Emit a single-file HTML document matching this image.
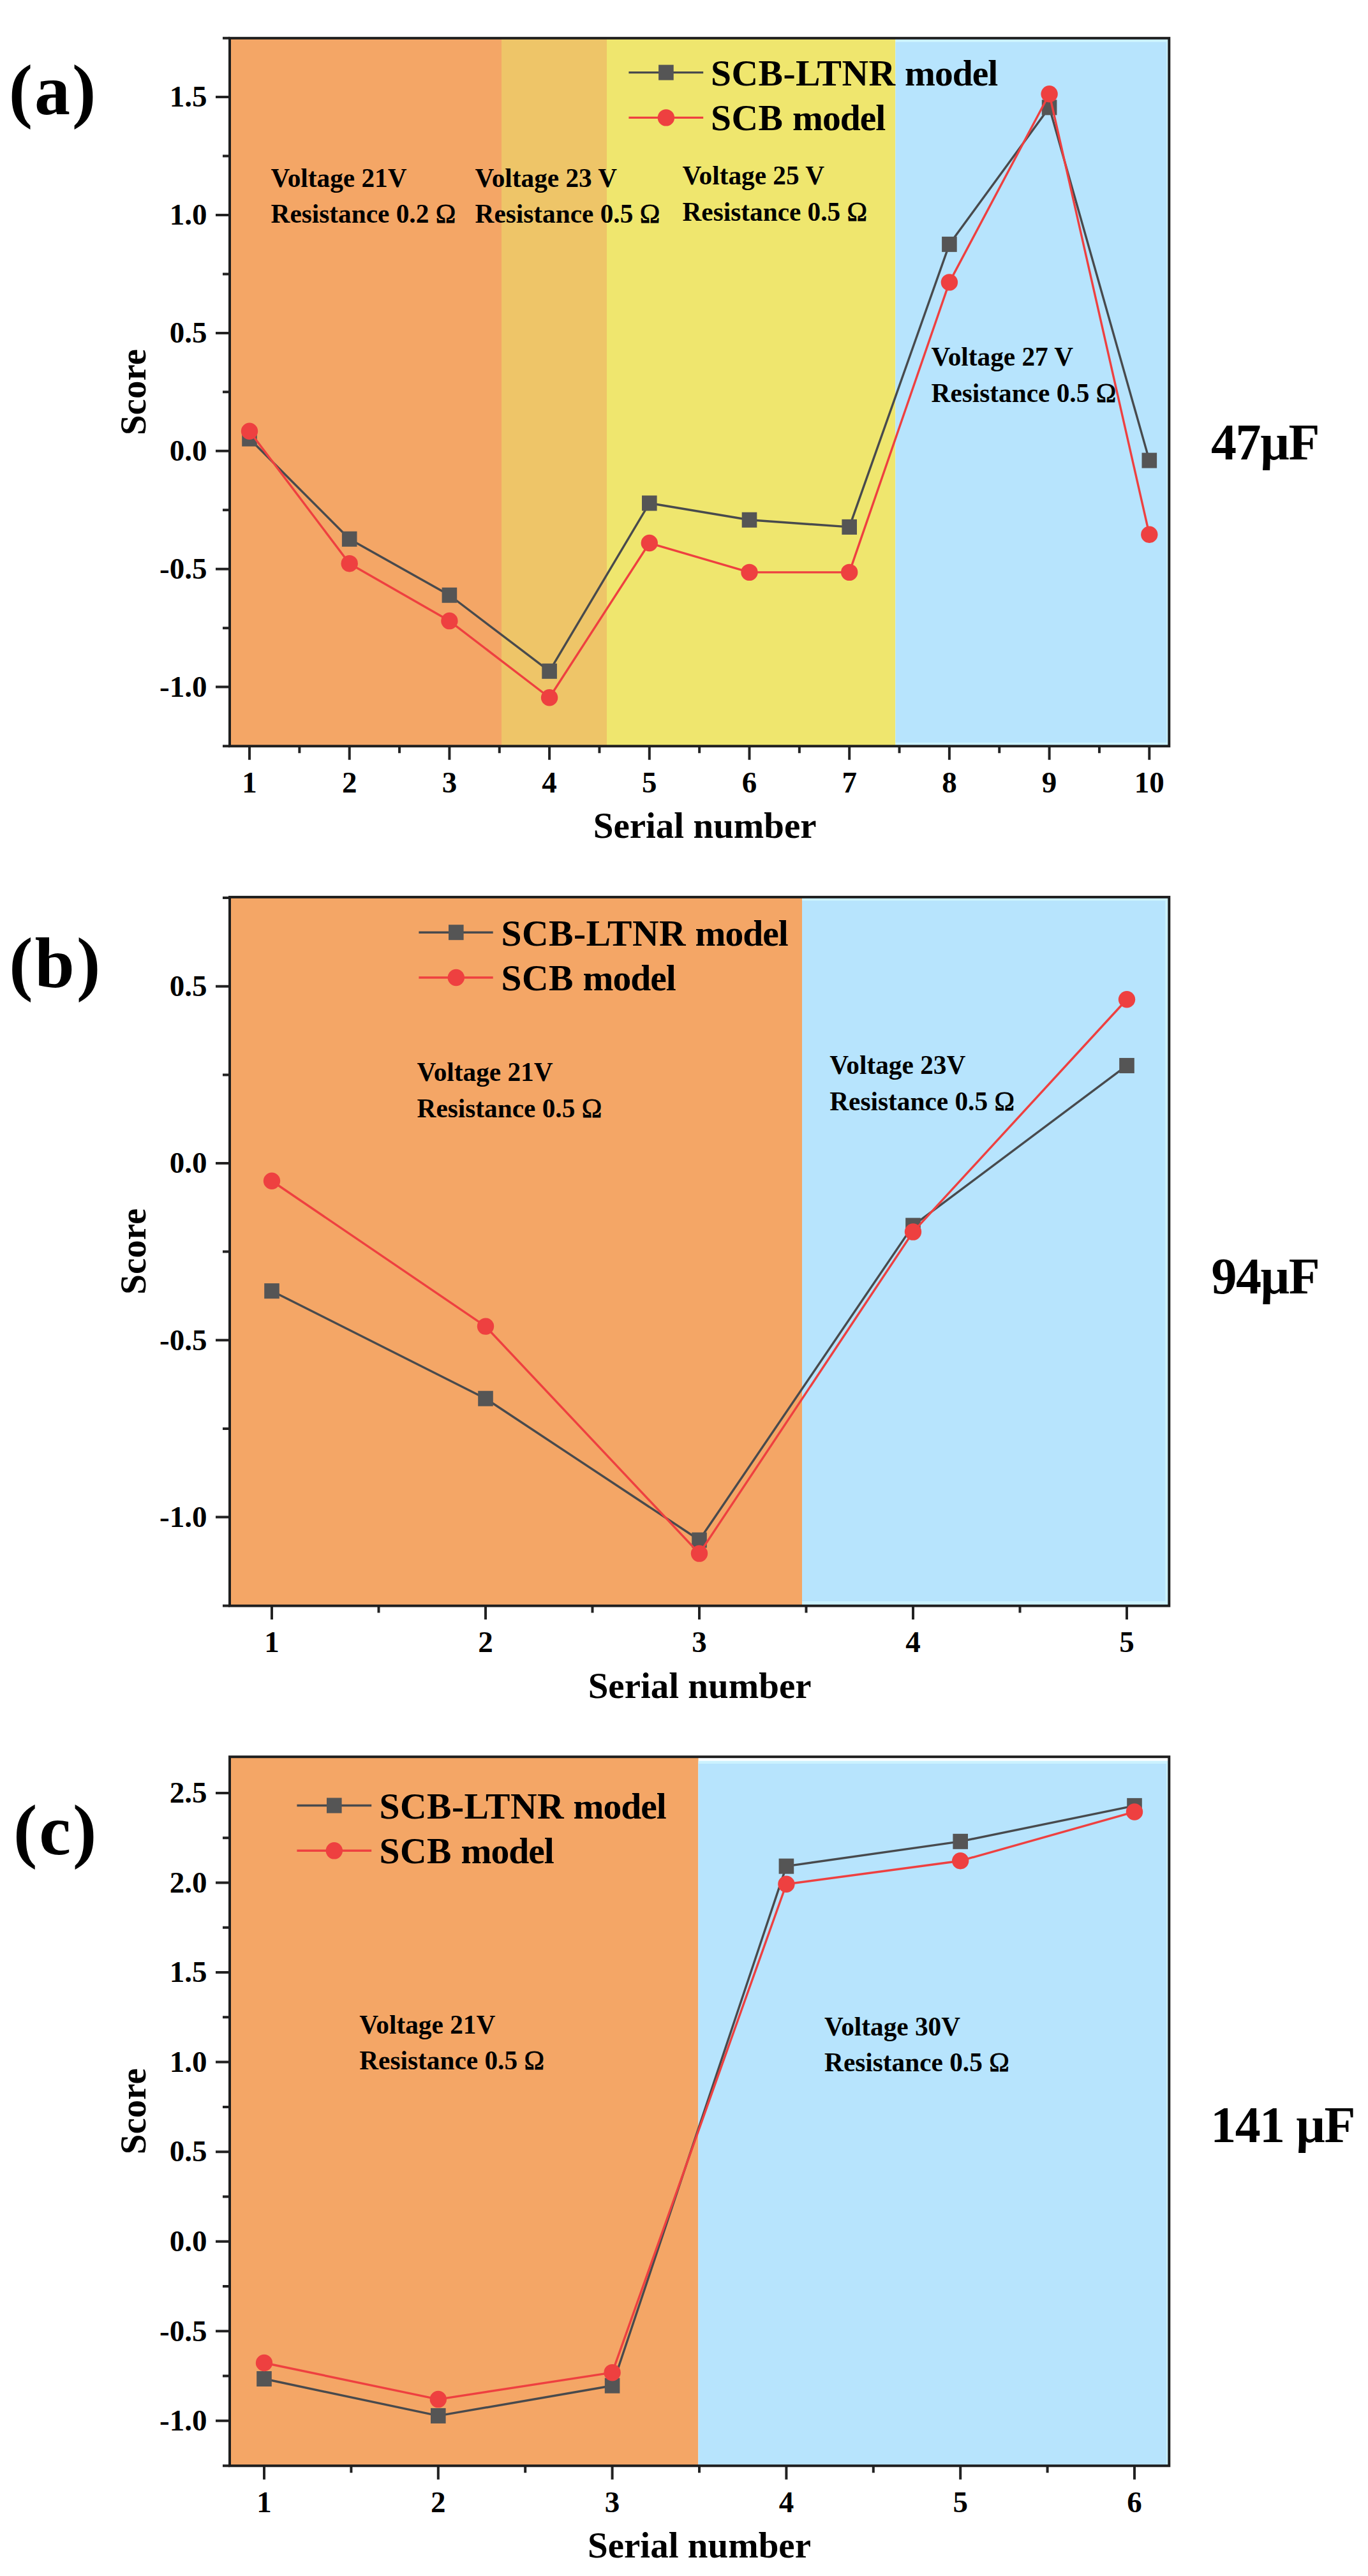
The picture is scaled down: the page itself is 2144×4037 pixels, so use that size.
<!DOCTYPE html>
<html lang="en"><head><meta charset="utf-8"><title>Score vs serial number</title>
<style>html,body{margin:0;padding:0;background:#fff}svg{display:block}text{fill:#000}</style>
</head><body>
<svg width="2144" height="4037" viewBox="0 0 2144 4037">
<rect width="2144" height="4037" fill="#fff"/>
<g id="panel-a">
<rect x="360" y="59.8" width="426" height="1109.5" fill="#F4A666"/>
<rect x="786" y="59.8" width="165" height="1109.5" fill="#EEC568"/>
<rect x="951" y="59.8" width="452.5" height="1109.5" fill="#EFE66E"/>
<rect x="1403.5" y="59.8" width="428.8" height="1109.5" fill="#CBF2FE"/>
<rect x="1403.5" y="66" width="424.7" height="1097.7" fill="#B7E4FD"/>
<path d="M338 1076.6H360M338 891.7H360M338 706.8H360M338 521.9H360M338 337H360M338 152.1H360M349 1169.3H360M349 984.15H360M349 799.25H360M349 614.35H360M349 429.45H360M349 244.55H360M349 59.8H360M391 1169.3V1190.8M547.7 1169.3V1190.8M704.4 1169.3V1190.8M861.1 1169.3V1190.8M1017.8 1169.3V1190.8M1174.5 1169.3V1190.8M1331.2 1169.3V1190.8M1487.9 1169.3V1190.8M1644.6 1169.3V1190.8M1801.3 1169.3V1190.8M469.35 1169.3V1180.3M626.05 1169.3V1180.3M782.75 1169.3V1180.3M939.45 1169.3V1180.3M1096.15 1169.3V1180.3M1252.85 1169.3V1180.3M1409.55 1169.3V1180.3M1566.25 1169.3V1180.3M1722.95 1169.3V1180.3" stroke="#222222" stroke-width="4" fill="none"/>
<polyline points="391,687.57 547.7,844.74 704.4,932.75 861.1,1051.82 1017.8,788.53 1174.5,814.78 1331.2,825.88 1487.9,382.86 1644.6,168.37 1801.3,721.59" fill="none" stroke="#484a4d" stroke-width="3.4" stroke-linejoin="round"/>
<rect x="379.2" y="675.57" width="23.6" height="24" fill="#555555"/>
<rect x="535.9" y="832.74" width="23.6" height="24" fill="#555555"/>
<rect x="692.6" y="920.75" width="23.6" height="24" fill="#555555"/>
<rect x="849.3" y="1039.82" width="23.6" height="24" fill="#555555"/>
<rect x="1006" y="776.53" width="23.6" height="24" fill="#555555"/>
<rect x="1162.7" y="802.78" width="23.6" height="24" fill="#555555"/>
<rect x="1319.4" y="813.88" width="23.6" height="24" fill="#555555"/>
<rect x="1476.1" y="370.86" width="23.6" height="24" fill="#555555"/>
<rect x="1632.8" y="156.37" width="23.6" height="24" fill="#555555"/>
<rect x="1789.5" y="709.59" width="23.6" height="24" fill="#555555"/>
<polyline points="391,675.74 547.7,883.19 704.4,973.06 861.1,1093.24 1017.8,851.02 1174.5,896.88 1331.2,896.88 1487.9,442.39 1644.6,147.29 1801.3,837.71" fill="none" stroke="#EE4040" stroke-width="3.4" stroke-linejoin="round"/>
<circle cx="391" cy="675.74" r="13.2" fill="#EE4040"/>
<circle cx="547.7" cy="883.19" r="13.2" fill="#EE4040"/>
<circle cx="704.4" cy="973.06" r="13.2" fill="#EE4040"/>
<circle cx="861.1" cy="1093.24" r="13.2" fill="#EE4040"/>
<circle cx="1017.8" cy="851.02" r="13.2" fill="#EE4040"/>
<circle cx="1174.5" cy="896.88" r="13.2" fill="#EE4040"/>
<circle cx="1331.2" cy="896.88" r="13.2" fill="#EE4040"/>
<circle cx="1487.9" cy="442.39" r="13.2" fill="#EE4040"/>
<circle cx="1644.6" cy="147.29" r="13.2" fill="#EE4040"/>
<circle cx="1801.3" cy="837.71" r="13.2" fill="#EE4040"/>
<rect x="360" y="59.8" width="1472.3" height="1109.5" fill="none" stroke="#1e1e1e" stroke-width="4"/>
<path d="M985.4 113.6H1102.2" stroke="#484a4d" stroke-width="3.4"/>
<rect x="1032.1" y="101.6" width="23.6" height="24" fill="#555555"/>
<path d="M985.4 184.4H1102.2" stroke="#EE4040" stroke-width="3.4"/>
<circle cx="1043.9" cy="184.4" r="13.2" fill="#EE4040"/>
<text x="1114" y="134" font-size="57.6" font-family="Liberation Serif, serif" font-weight="bold"><tspan letter-spacing="0.45">SCB-LTNR</tspan> <tspan letter-spacing="-1">model</tspan></text>
<text x="1114" y="204.4" font-size="57.6" font-family="Liberation Serif, serif" font-weight="bold"><tspan letter-spacing="0.5">SCB</tspan> <tspan letter-spacing="-1">model</tspan></text>
<text x="424.6" y="293" font-size="41.3" font-family="Liberation Serif, serif" font-weight="bold">Voltage 21V</text>
<text x="424.6" y="349.3" font-size="41.3" font-family="Liberation Serif, serif" font-weight="bold">Resistance 0.2 <tspan font-weight="normal" font-size="42.5" stroke="#000" stroke-width="0.8">Ω</tspan></text>
<text x="744.6" y="292.8" font-size="41.3" font-family="Liberation Serif, serif" font-weight="bold">Voltage 23 V</text>
<text x="744.6" y="349.1" font-size="41.3" font-family="Liberation Serif, serif" font-weight="bold">Resistance 0.5 <tspan font-weight="normal" font-size="42.5" stroke="#000" stroke-width="0.8">Ω</tspan></text>
<text x="1069.5" y="289.2" font-size="41.3" font-family="Liberation Serif, serif" font-weight="bold">Voltage 25 V</text>
<text x="1069.5" y="345.5" font-size="41.3" font-family="Liberation Serif, serif" font-weight="bold">Resistance 0.5 <tspan font-weight="normal" font-size="42.5" stroke="#000" stroke-width="0.8">Ω</tspan></text>
<text x="1459.6" y="573.4" font-size="41.3" font-family="Liberation Serif, serif" font-weight="bold">Voltage 27 V</text>
<text x="1459.6" y="629.7" font-size="41.3" font-family="Liberation Serif, serif" font-weight="bold">Resistance 0.5 <tspan font-weight="normal" font-size="42.5" stroke="#000" stroke-width="0.8">Ω</tspan></text>
<text x="324.5" y="1091.9" text-anchor="end" font-size="47" font-family="Liberation Serif, serif" font-weight="bold">-1.0</text>
<text x="324.5" y="907" text-anchor="end" font-size="47" font-family="Liberation Serif, serif" font-weight="bold">-0.5</text>
<text x="324.5" y="722.1" text-anchor="end" font-size="47" font-family="Liberation Serif, serif" font-weight="bold">0.0</text>
<text x="324.5" y="537.2" text-anchor="end" font-size="47" font-family="Liberation Serif, serif" font-weight="bold">0.5</text>
<text x="324.5" y="352.3" text-anchor="end" font-size="47" font-family="Liberation Serif, serif" font-weight="bold">1.0</text>
<text x="324.5" y="167.4" text-anchor="end" font-size="47" font-family="Liberation Serif, serif" font-weight="bold">1.5</text>
<text x="391" y="1241.8" text-anchor="middle" font-size="47" font-family="Liberation Serif, serif" font-weight="bold">1</text>
<text x="547.7" y="1241.8" text-anchor="middle" font-size="47" font-family="Liberation Serif, serif" font-weight="bold">2</text>
<text x="704.4" y="1241.8" text-anchor="middle" font-size="47" font-family="Liberation Serif, serif" font-weight="bold">3</text>
<text x="861.1" y="1241.8" text-anchor="middle" font-size="47" font-family="Liberation Serif, serif" font-weight="bold">4</text>
<text x="1017.8" y="1241.8" text-anchor="middle" font-size="47" font-family="Liberation Serif, serif" font-weight="bold">5</text>
<text x="1174.5" y="1241.8" text-anchor="middle" font-size="47" font-family="Liberation Serif, serif" font-weight="bold">6</text>
<text x="1331.2" y="1241.8" text-anchor="middle" font-size="47" font-family="Liberation Serif, serif" font-weight="bold">7</text>
<text x="1487.9" y="1241.8" text-anchor="middle" font-size="47" font-family="Liberation Serif, serif" font-weight="bold">8</text>
<text x="1644.6" y="1241.8" text-anchor="middle" font-size="47" font-family="Liberation Serif, serif" font-weight="bold">9</text>
<text x="1801.3" y="1241.8" text-anchor="middle" font-size="47" font-family="Liberation Serif, serif" font-weight="bold">10</text>
<text x="1104.7" y="1313.3" text-anchor="middle" font-size="57" font-family="Liberation Serif, serif" font-weight="bold">Serial number</text>
<text transform="translate(228 614.55) rotate(-90)" text-anchor="middle" font-size="57" font-family="Liberation Serif, serif" font-weight="bold">Score</text>
<text x="13.8" y="178.8" font-size="112" letter-spacing="3" font-family="Liberation Serif, serif" font-weight="bold">(a)</text>
<text x="1898.1" y="720" font-size="80" letter-spacing="-1.6" font-family="Liberation Serif, serif" font-weight="bold">47µF</text>
</g>
<g id="panel-b">
<rect x="360" y="1405.9" width="897" height="1110.7" fill="#F4A666"/>
<rect x="1257" y="1405.9" width="575.3" height="1110.7" fill="#CBF2FE"/>
<rect x="1257" y="1411.6" width="569.4" height="1097.7" fill="#B7E4FD"/>
<path d="M338 2377.5H360M338 2100.25H360M338 1823H360M338 1545.75H360M349 2516.6H360M349 2238.88H360M349 1961.62H360M349 1684.38H360M349 1407.12H360M426 2516.6V2538.1M761 2516.6V2538.1M1096 2516.6V2538.1M1431 2516.6V2538.1M1766 2516.6V2538.1M593.5 2516.6V2527.6M928.5 2516.6V2527.6M1263.5 2516.6V2527.6M1598.5 2516.6V2527.6" stroke="#222222" stroke-width="4" fill="none"/>
<polyline points="426,2023.17 761,2191.74 1096,2413.54 1431,1920.59 1766,1669.96" fill="none" stroke="#484a4d" stroke-width="3.4" stroke-linejoin="round"/>
<rect x="414.2" y="2011.17" width="23.6" height="24" fill="#555555"/>
<rect x="749.2" y="2179.74" width="23.6" height="24" fill="#555555"/>
<rect x="1084.2" y="2401.54" width="23.6" height="24" fill="#555555"/>
<rect x="1419.2" y="1908.59" width="23.6" height="24" fill="#555555"/>
<rect x="1754.2" y="1657.96" width="23.6" height="24" fill="#555555"/>
<polyline points="426,1850.72 761,2078.62 1096,2434.61 1431,1930.57 1766,1566.27" fill="none" stroke="#EE4040" stroke-width="3.4" stroke-linejoin="round"/>
<circle cx="426" cy="1850.72" r="13.2" fill="#EE4040"/>
<circle cx="761" cy="2078.62" r="13.2" fill="#EE4040"/>
<circle cx="1096" cy="2434.61" r="13.2" fill="#EE4040"/>
<circle cx="1431" cy="1930.57" r="13.2" fill="#EE4040"/>
<circle cx="1766" cy="1566.27" r="13.2" fill="#EE4040"/>
<rect x="360" y="1405.9" width="1472.3" height="1110.7" fill="none" stroke="#1e1e1e" stroke-width="4"/>
<path d="M656.4 1461.2H772.7" stroke="#484a4d" stroke-width="3.4"/>
<rect x="703" y="1449.2" width="23.6" height="24" fill="#555555"/>
<path d="M656.4 1532H772.7" stroke="#EE4040" stroke-width="3.4"/>
<circle cx="714.8" cy="1532" r="13.2" fill="#EE4040"/>
<text x="785.5" y="1481.6" font-size="57.6" font-family="Liberation Serif, serif" font-weight="bold"><tspan letter-spacing="0.45">SCB-LTNR</tspan> <tspan letter-spacing="-1">model</tspan></text>
<text x="785.5" y="1552" font-size="57.6" font-family="Liberation Serif, serif" font-weight="bold"><tspan letter-spacing="0.5">SCB</tspan> <tspan letter-spacing="-1">model</tspan></text>
<text x="653.6" y="1694.2" font-size="41.3" font-family="Liberation Serif, serif" font-weight="bold">Voltage 21V</text>
<text x="653.6" y="1750.5" font-size="41.3" font-family="Liberation Serif, serif" font-weight="bold">Resistance 0.5 <tspan font-weight="normal" font-size="42.5" stroke="#000" stroke-width="0.8">Ω</tspan></text>
<text x="1300.3" y="1683.4" font-size="41.3" font-family="Liberation Serif, serif" font-weight="bold">Voltage 23V</text>
<text x="1300.3" y="1739.7" font-size="41.3" font-family="Liberation Serif, serif" font-weight="bold">Resistance 0.5 <tspan font-weight="normal" font-size="42.5" stroke="#000" stroke-width="0.8">Ω</tspan></text>
<text x="324.5" y="2392.8" text-anchor="end" font-size="47" font-family="Liberation Serif, serif" font-weight="bold">-1.0</text>
<text x="324.5" y="2115.55" text-anchor="end" font-size="47" font-family="Liberation Serif, serif" font-weight="bold">-0.5</text>
<text x="324.5" y="1838.3" text-anchor="end" font-size="47" font-family="Liberation Serif, serif" font-weight="bold">0.0</text>
<text x="324.5" y="1561.05" text-anchor="end" font-size="47" font-family="Liberation Serif, serif" font-weight="bold">0.5</text>
<text x="426" y="2589.1" text-anchor="middle" font-size="47" font-family="Liberation Serif, serif" font-weight="bold">1</text>
<text x="761" y="2589.1" text-anchor="middle" font-size="47" font-family="Liberation Serif, serif" font-weight="bold">2</text>
<text x="1096" y="2589.1" text-anchor="middle" font-size="47" font-family="Liberation Serif, serif" font-weight="bold">3</text>
<text x="1431" y="2589.1" text-anchor="middle" font-size="47" font-family="Liberation Serif, serif" font-weight="bold">4</text>
<text x="1766" y="2589.1" text-anchor="middle" font-size="47" font-family="Liberation Serif, serif" font-weight="bold">5</text>
<text x="1096.6" y="2660.6" text-anchor="middle" font-size="57" font-family="Liberation Serif, serif" font-weight="bold">Serial number</text>
<text transform="translate(228 1961.25) rotate(-90)" text-anchor="middle" font-size="57" font-family="Liberation Serif, serif" font-weight="bold">Score</text>
<text x="14.3" y="1546.6" font-size="112" letter-spacing="3" font-family="Liberation Serif, serif" font-weight="bold">(b)</text>
<text x="1898.5" y="2027.3" font-size="80" letter-spacing="-1.6" font-family="Liberation Serif, serif" font-weight="bold">94µF</text>
</g>
<g id="panel-c">
<rect x="360" y="2753.2" width="734.5" height="1111.1" fill="#F4A666"/>
<rect x="1094.5" y="2759.5" width="737.8" height="1104.8" fill="#CBF2FE"/>
<rect x="1094.5" y="2764" width="733.5" height="1100.3" fill="#B7E4FD"/>
<path d="M338 3793.8H360M338 3653.25H360M338 3512.7H360M338 3372.15H360M338 3231.6H360M338 3091.05H360M338 2950.5H360M338 2809.95H360M349 3864.3H360M349 3723.52H360M349 3582.97H360M349 3442.42H360M349 3301.88H360M349 3161.32H360M349 3020.77H360M349 2880.22H360M414 3864.3V3885.8M686.8 3864.3V3885.8M959.6 3864.3V3885.8M1232.4 3864.3V3885.8M1505.2 3864.3V3885.8M1778 3864.3V3885.8M550.4 3864.3V3875.3M823.2 3864.3V3875.3M1096 3864.3V3875.3M1368.8 3864.3V3875.3M1641.6 3864.3V3875.3" stroke="#222222" stroke-width="4" fill="none"/>
<polyline points="414,3728.02 686.8,3785.93 959.6,3738.7 1232.4,2924.64 1505.2,2885.85 1778,2829.91" fill="none" stroke="#484a4d" stroke-width="3.4" stroke-linejoin="round"/>
<rect x="402.2" y="3716.02" width="23.6" height="24" fill="#555555"/>
<rect x="675" y="3773.93" width="23.6" height="24" fill="#555555"/>
<rect x="947.8" y="3726.7" width="23.6" height="24" fill="#555555"/>
<rect x="1220.6" y="2912.64" width="23.6" height="24" fill="#555555"/>
<rect x="1493.4" y="2873.85" width="23.6" height="24" fill="#555555"/>
<rect x="1766.2" y="2817.91" width="23.6" height="24" fill="#555555"/>
<polyline points="414,3703 686.8,3760.07 959.6,3718.18 1232.4,2952.75 1505.2,2916.21 1778,2839.47" fill="none" stroke="#EE4040" stroke-width="3.4" stroke-linejoin="round"/>
<circle cx="414" cy="3703" r="13.2" fill="#EE4040"/>
<circle cx="686.8" cy="3760.07" r="13.2" fill="#EE4040"/>
<circle cx="959.6" cy="3718.18" r="13.2" fill="#EE4040"/>
<circle cx="1232.4" cy="2952.75" r="13.2" fill="#EE4040"/>
<circle cx="1505.2" cy="2916.21" r="13.2" fill="#EE4040"/>
<circle cx="1778" cy="2839.47" r="13.2" fill="#EE4040"/>
<rect x="360" y="2753.2" width="1472.3" height="1111.1" fill="none" stroke="#1e1e1e" stroke-width="4"/>
<path d="M465.4 2829.5H582.2" stroke="#484a4d" stroke-width="3.4"/>
<rect x="512" y="2817.5" width="23.6" height="24" fill="#555555"/>
<path d="M465.4 2900.3H582.2" stroke="#EE4040" stroke-width="3.4"/>
<circle cx="523.8" cy="2900.3" r="13.2" fill="#EE4040"/>
<text x="594.5" y="2849.9" font-size="57.6" font-family="Liberation Serif, serif" font-weight="bold"><tspan letter-spacing="0.45">SCB-LTNR</tspan> <tspan letter-spacing="-1">model</tspan></text>
<text x="594.5" y="2920.3" font-size="57.6" font-family="Liberation Serif, serif" font-weight="bold"><tspan letter-spacing="0.5">SCB</tspan> <tspan letter-spacing="-1">model</tspan></text>
<text x="563.3" y="3186.5" font-size="41.3" font-family="Liberation Serif, serif" font-weight="bold">Voltage 21V</text>
<text x="563.3" y="3242.8" font-size="41.3" font-family="Liberation Serif, serif" font-weight="bold">Resistance 0.5 <tspan font-weight="normal" font-size="42.5" stroke="#000" stroke-width="0.8">Ω</tspan></text>
<text x="1292.1" y="3189.7" font-size="41.3" font-family="Liberation Serif, serif" font-weight="bold">Voltage 30V</text>
<text x="1292.1" y="3246" font-size="41.3" font-family="Liberation Serif, serif" font-weight="bold">Resistance 0.5 <tspan font-weight="normal" font-size="42.5" stroke="#000" stroke-width="0.8">Ω</tspan></text>
<text x="324.5" y="3809.1" text-anchor="end" font-size="47" font-family="Liberation Serif, serif" font-weight="bold">-1.0</text>
<text x="324.5" y="3668.55" text-anchor="end" font-size="47" font-family="Liberation Serif, serif" font-weight="bold">-0.5</text>
<text x="324.5" y="3528" text-anchor="end" font-size="47" font-family="Liberation Serif, serif" font-weight="bold">0.0</text>
<text x="324.5" y="3387.45" text-anchor="end" font-size="47" font-family="Liberation Serif, serif" font-weight="bold">0.5</text>
<text x="324.5" y="3246.9" text-anchor="end" font-size="47" font-family="Liberation Serif, serif" font-weight="bold">1.0</text>
<text x="324.5" y="3106.35" text-anchor="end" font-size="47" font-family="Liberation Serif, serif" font-weight="bold">1.5</text>
<text x="324.5" y="2965.8" text-anchor="end" font-size="47" font-family="Liberation Serif, serif" font-weight="bold">2.0</text>
<text x="324.5" y="2825.25" text-anchor="end" font-size="47" font-family="Liberation Serif, serif" font-weight="bold">2.5</text>
<text x="414" y="3937.4" text-anchor="middle" font-size="47" font-family="Liberation Serif, serif" font-weight="bold">1</text>
<text x="686.8" y="3937.4" text-anchor="middle" font-size="47" font-family="Liberation Serif, serif" font-weight="bold">2</text>
<text x="959.6" y="3937.4" text-anchor="middle" font-size="47" font-family="Liberation Serif, serif" font-weight="bold">3</text>
<text x="1232.4" y="3937.4" text-anchor="middle" font-size="47" font-family="Liberation Serif, serif" font-weight="bold">4</text>
<text x="1505.2" y="3937.4" text-anchor="middle" font-size="47" font-family="Liberation Serif, serif" font-weight="bold">5</text>
<text x="1778" y="3937.4" text-anchor="middle" font-size="47" font-family="Liberation Serif, serif" font-weight="bold">6</text>
<text x="1096" y="4008.3" text-anchor="middle" font-size="57" font-family="Liberation Serif, serif" font-weight="bold">Serial number</text>
<text transform="translate(228 3308.75) rotate(-90)" text-anchor="middle" font-size="57" font-family="Liberation Serif, serif" font-weight="bold">Score</text>
<text x="20.9" y="2905.9" font-size="112" letter-spacing="3" font-family="Liberation Serif, serif" font-weight="bold">(c)</text>
<text x="1897.3" y="3356.7" font-size="80" letter-spacing="-1.6" font-family="Liberation Serif, serif" font-weight="bold">141 µF</text>
</g>
</svg>
</body></html>
